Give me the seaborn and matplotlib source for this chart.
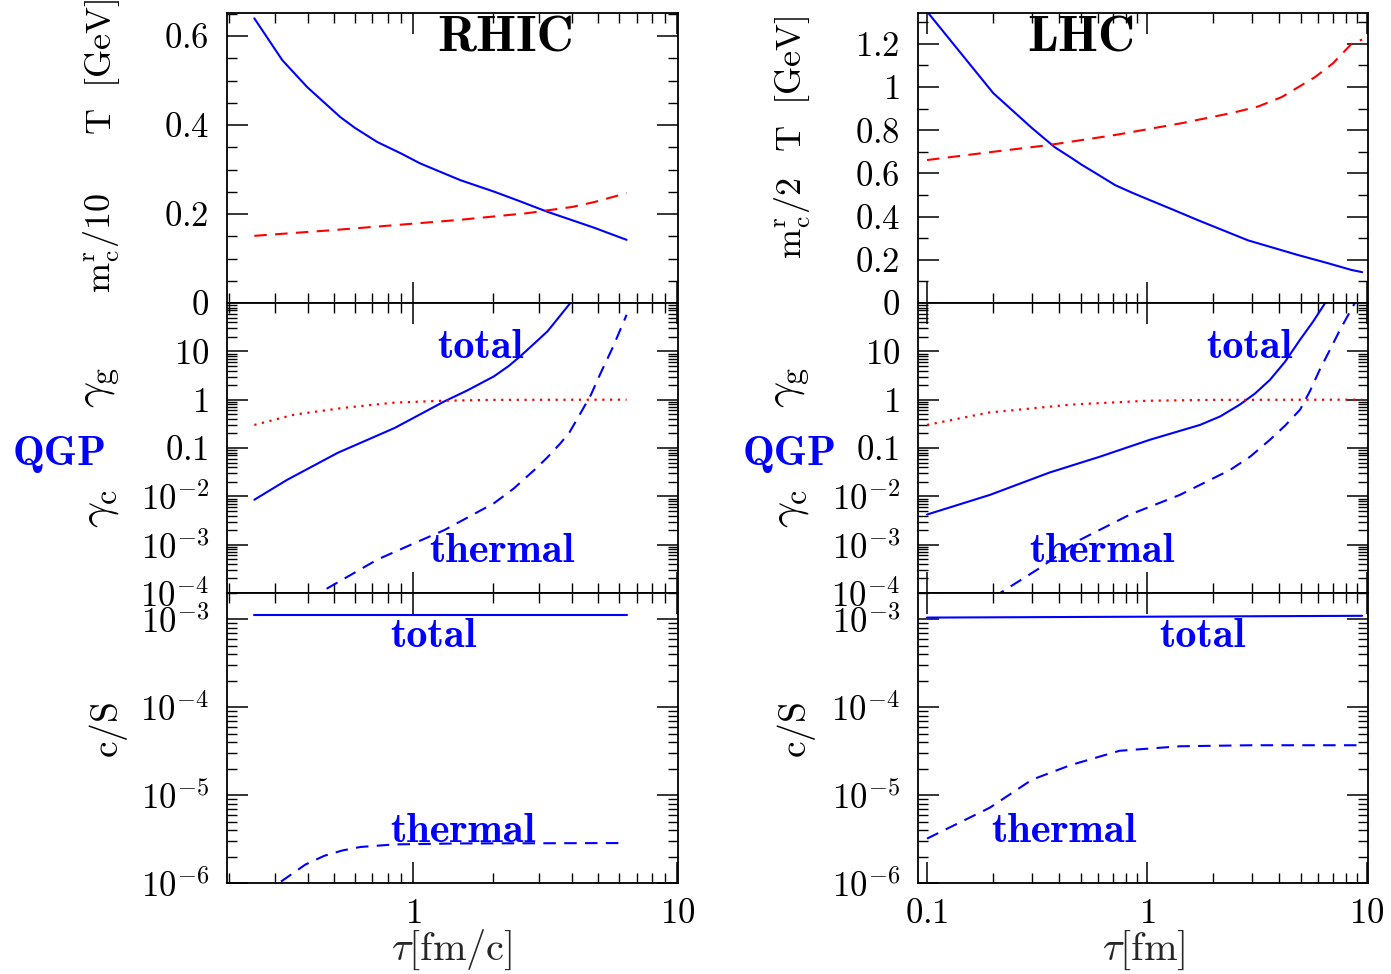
import numpy as np
import matplotlib
matplotlib.use("Agg")
import matplotlib.pyplot as plt
from matplotlib.ticker import FixedLocator, FixedFormatter, NullFormatter
import seaborn as sns

# ---------------- data ----------------
# RHIC
rhic_tau_T = [0.25, 0.319, 0.397, 0.529, 0.6, 0.73, 0.9, 1.06, 1.3, 1.51, 2.03, 2.5, 3.22, 4.0, 4.85, 6.42]
rhic_T = [0.64, 0.546, 0.485, 0.418, 0.394, 0.362, 0.336, 0.314, 0.292, 0.276, 0.25, 0.230, 0.205, 0.186, 0.169, 0.142]
rhic_tau_m = [0.25, 0.5, 0.85, 1.5, 2.7, 4.0, 4.85, 6.42]
rhic_m = [0.151, 0.164, 0.175, 0.187, 0.202, 0.216, 0.227, 0.247]

rhic_tau_gc_tot = [0.25, 0.333, 0.516, 0.85, 1.31, 1.6, 2.02, 2.3, 2.54, 2.85, 3.22, 3.55, 3.93]
rhic_gc_tot = [0.0085, 0.022, 0.079, 0.26, 0.92, 1.55, 3.04, 5.0, 7.9, 14.0, 25.9, 50.0, 100.0]
rhic_tau_gc_th = [0.25, 0.45, 0.73, 1.0, 1.31, 2.02, 2.4, 2.87, 3.2, 3.61, 3.9, 4.3, 4.7, 5.12, 5.7, 6.42]
rhic_gc_th = [1.7e-5, 1.07e-4, 4.9e-4, 1.05e-3, 2.0e-3, 7.2e-3, 0.0145, 0.035, 0.062, 0.126, 0.21, 0.53, 1.25, 3.55, 12.3, 57.0]
rhic_tau_gg = [0.25, 0.354, 0.548, 0.85, 1.3, 2.0, 6.42]
rhic_gg = [0.30, 0.49, 0.68, 0.87, 0.95, 0.99, 1.0]

rhic_tau_cs_tot = [0.25, 6.42]
rhic_cs_tot = [1.12e-3, 1.12e-3]
rhic_tau_cs_th = [0.25, 0.31, 0.39, 0.46, 0.54, 0.63, 0.85, 1.5, 6.42]
rhic_cs_th = [4.5e-7, 1.0e-6, 1.62e-6, 2.04e-6, 2.35e-6, 2.57e-6, 2.75e-6, 2.82e-6, 2.85e-6]

# LHC
lhc_tau_T = [0.1, 0.2, 0.3, 0.38, 0.45, 0.507, 0.6, 0.716, 0.85, 1.01, 1.3, 1.7, 2.2, 2.88, 3.8, 4.86, 6.5, 8.5, 9.5]
lhc_T = [1.35, 0.972, 0.81, 0.722, 0.674, 0.639, 0.594, 0.546, 0.512, 0.48, 0.434, 0.384, 0.338, 0.29, 0.254, 0.222, 0.187, 0.153, 0.143]
lhc_tau_m = [0.1, 0.178, 0.355, 0.716, 1.44, 2.43, 3.2, 4.1, 5.8, 7.0, 8.5, 9.5]
lhc_m = [0.662, 0.694, 0.731, 0.778, 0.833, 0.88, 0.91, 0.954, 1.046, 1.11, 1.2, 1.22]

lhc_tau_gc_tot = [0.1, 0.193, 0.36, 0.61, 1.03, 1.74, 2.15, 2.64, 3.09, 3.62, 4.24, 4.96, 5.68, 6.45]
lhc_gc_tot = [4.2e-3, 0.0107, 0.031, 0.066, 0.148, 0.30, 0.45, 0.79, 1.33, 2.57, 6.1, 17.4, 41.0, 100.0]
lhc_tau_gc_th = [0.2, 0.215, 0.326, 0.496, 0.837, 1.41, 2.38, 2.94, 3.62, 4.24, 4.96, 5.5, 6.1, 6.8, 7.54, 8.8]
lhc_gc_th = [8e-5, 1.0e-4, 3.3e-4, 1.26e-3, 4.2e-3, 0.0107, 0.035, 0.066, 0.148, 0.29, 0.62, 1.5, 4.2, 11.0, 28.0, 100.0]
lhc_tau_gg = [0.1, 0.19, 0.45, 1.0, 2.0, 9.5]
lhc_gg = [0.30, 0.54, 0.79, 0.95, 0.99, 1.0]

lhc_tau_cs_tot = [0.1, 9.5]
lhc_cs_tot = [1.05e-3, 1.1e-3]
lhc_tau_cs_th = [0.1, 0.193, 0.3, 0.45, 0.75, 1.41, 3.0, 9.5]
lhc_cs_th = [3.2e-6, 7.2e-6, 1.5e-5, 2.2e-5, 3.2e-5, 3.6e-5, 3.7e-5, 3.7e-5]

# tick labels
top_left_ticks = [0, 0.2, 0.4, 0.6]
top_left_labels = ["$0$", "$0.2$", "$0.4$", "$0.6$"]
top_right_ticks = [0, 0.2, 0.4, 0.6, 0.8, 1.0, 1.2]
top_right_labels = ["$0$", "$0.2$", "$0.4$", "$0.6$", "$0.8$", "$1$", "$1.2$"]
mid_ticks = [1e-4, 1e-3, 1e-2, 0.1, 1, 10]
mid_labels = ["$10^{-4}$", "$10^{-3}$", "$10^{-2}$", "$0.1$", "$1$", "$10$"]
bot_ticks = [1e-6, 1e-5, 1e-4, 1e-3]
bot_labels = ["$10^{-6}$", "$10^{-5}$", "$10^{-4}$", "$10^{-3}$"]
x_left_ticks = [1, 10]
x_left_labels = ["$1$", "$10$"]
x_right_ticks = [0.1, 1, 10]
x_right_labels = ["$0.1$", "$1$", "$10$"]

# ---------------- style ----------------
sns.set_style("ticks")
plt.rcParams.update({
    "mathtext.fontset": "cm",
    "font.family": ["cmr10", "DejaVu Sans"],
    "axes.linewidth": 1.3,
    "xtick.direction": "in", "ytick.direction": "in",
    "xtick.top": True, "ytick.right": True,
    "xtick.major.size": 15, "ytick.major.size": 15,
    "xtick.minor.size": 7.5, "ytick.minor.size": 7.5,
    "xtick.major.width": 1.1, "ytick.major.width": 1.1,
    "xtick.minor.width": 1.0, "ytick.minor.width": 1.0,
    "xtick.color": "black", "ytick.color": "black",
    "axes.edgecolor": "black",
})

W, H = 1391, 974
fig = plt.figure(figsize=(W / 100, H / 100), dpi=100)

def fx(px):
    return px / W

def fy(py):
    return 1 - py / H

cols = [(227, 678), (918, 1368)]
rows = [(13, 303), (303, 593), (593, 883)]
axes = [[None] * 3 for _ in range(2)]
for c, (x0, x1) in enumerate(cols):
    for r, (y0, y1) in enumerate(rows):
        axes[c][r] = fig.add_axes([fx(x0), fy(y1), (x1 - x0) / W, (y1 - y0) / H])

blue = "#0000ff"
red = "#ff0000"
lw = 1.5
dash = (0, (6, 4))
dot = (0, (1, 2.5))

def line(ax, x, y, color, ls="-", lwd=lw):
    sns.lineplot(x=x, y=y, ax=ax, color=color, linestyle=ls, linewidth=lwd,
                 estimator=None, sort=False)

sets = [
    dict(T=(rhic_tau_T, rhic_T), m=(rhic_tau_m, rhic_m),
         gtot=(rhic_tau_gc_tot, rhic_gc_tot), gth=(rhic_tau_gc_th, rhic_gc_th),
         gg=(rhic_tau_gg, rhic_gg), ctot=(rhic_tau_cs_tot, rhic_cs_tot),
         cth=(rhic_tau_cs_th, rhic_cs_th), xlim=(0.197, 10.05), ytop=0.652,
         tticks=top_left_ticks, tlabels=top_left_labels, tminor=0.05,
         xt=x_left_ticks, xl=x_left_labels),
    dict(T=(lhc_tau_T, lhc_T), m=(lhc_tau_m, lhc_m),
         gtot=(lhc_tau_gc_tot, lhc_gc_tot), gth=(lhc_tau_gc_th, lhc_gc_th),
         gg=(lhc_tau_gg, lhc_gg), ctot=(lhc_tau_cs_tot, lhc_cs_tot),
         cth=(lhc_tau_cs_th, lhc_cs_th), xlim=(0.091, 10.1), ytop=1.343,
         tticks=top_right_ticks, tlabels=top_right_labels, tminor=0.1,
         xt=x_right_ticks, xl=x_right_labels),
]

xminor = [k * 10.0 ** e for e in (-2, -1, 0) for k in range(2, 10)]
yminor_mid = [k * 10.0 ** e for e in range(-4, 2) for k in range(2, 10)]
yminor_bot = [k * 10.0 ** e for e in range(-6, -2) for k in range(2, 10)]

TICK_FS = 25

for c, d in enumerate(sets):
    a0, a1, a2 = axes[c]
    line(a0, *d["T"], blue)
    line(a0, *d["m"], red, dash)
    a0.set_ylim(0, d["ytop"])
    a0.yaxis.set_major_locator(FixedLocator(d["tticks"]))
    a0.yaxis.set_major_formatter(FixedFormatter(d["tlabels"]))
    a0.yaxis.set_minor_locator(FixedLocator(list(np.arange(0, d["ytop"], d["tminor"]))))

    line(a1, *d["gtot"], blue)
    line(a1, *d["gth"], blue, dash)
    line(a1, *d["gg"], red, dot, 1.6)
    a1.set_yscale("log")
    a1.set_ylim(1e-4, 100)
    a1.yaxis.set_major_locator(FixedLocator(mid_ticks))
    a1.yaxis.set_major_formatter(FixedFormatter(mid_labels))
    a1.yaxis.set_minor_locator(FixedLocator(yminor_mid))

    line(a2, *d["ctot"], blue)
    line(a2, *d["cth"], blue, dash)
    a2.set_yscale("log")
    a2.set_ylim(1e-6, 2e-3)
    a2.yaxis.set_major_locator(FixedLocator(bot_ticks))
    a2.yaxis.set_major_formatter(FixedFormatter(bot_labels))
    a2.yaxis.set_minor_locator(FixedLocator(yminor_bot))
    for i, ax in enumerate((a0, a1, a2)):
        ax.set_xscale("log")
        ax.set_xlim(*d["xlim"])
        ax.xaxis.set_major_locator(FixedLocator(d["xt"]))
        ax.xaxis.set_minor_locator(FixedLocator(xminor))
        ax.yaxis.set_minor_formatter(NullFormatter())
        ax.xaxis.set_minor_formatter(NullFormatter())
        if i == 2:
            ax.xaxis.set_major_formatter(FixedFormatter(d["xl"]))
        else:
            ax.xaxis.set_major_formatter(NullFormatter())
        ax.set_xlabel("")
        ax.set_ylabel("")
        ax.tick_params(axis="both", which="both", top=True, right=True, labelsize=TICK_FS)
        ax.tick_params(axis="y", which="major", pad=13)
        ax.tick_params(axis="x", which="major", pad=11)
        for s in ax.spines.values():
            s.set_visible(True)
            s.set_linewidth(1.3)

# ---------------- texts ----------------
bold = dict(family="cmb10", fontsize=30.5, color=blue, ha="left", va="baseline")
fig.text(fx(437), fy(52), "RHIC", family="cmb10", fontsize=37, color="black", ha="left", va="baseline")
fig.text(fx(1027), fy(52), "LHC", family="cmb10", fontsize=37, color="black", ha="left", va="baseline")
fig.text(fx(437), fy(358), "total", **bold)
fig.text(fx(429), fy(562), "thermal", **bold)
fig.text(fx(390), fy(647), "total", **bold)
fig.text(fx(390), fy(842), "thermal", **bold)
fig.text(fx(1206), fy(358), "total", **bold)
fig.text(fx(1029), fy(562), "thermal", **bold)
fig.text(fx(1159), fy(647), "total", **bold)
fig.text(fx(991), fy(842), "thermal", **bold)
fig.text(fx(13), fy(465), "QGP", **bold)
fig.text(fx(743), fy(465), "QGP", **bold)

lab = dict(fontsize=26, rotation=90, ha="center", va="center", color="black")
glab = dict(lab, fontsize=33)
fig.text(fx(102), fy(67), r"$\mathrm{T\ \ [GeV]}$", **lab)
fig.text(fx(102), fy(243), r"$\mathrm{m_c^r/10}$", **lab)
fig.text(fx(793), fy(84), r"$\mathrm{T\ \ [GeV]}$", **lab)
fig.text(fx(793), fy(218), r"$\mathrm{m_c^r/2}$", **lab)
fig.text(fx(100), fy(387), r"$\gamma_\mathrm{g}$", **glab)
fig.text(fx(100), fy(508), r"$\gamma_\mathrm{c}$", **glab)
fig.text(fx(790), fy(387), r"$\gamma_\mathrm{g}$", **glab)
fig.text(fx(790), fy(508), r"$\gamma_\mathrm{c}$", **glab)
fig.text(fx(108), fy(730), r"$\mathrm{c/S}$", **dict(lab, fontsize=27))
fig.text(fx(797), fy(730), r"$\mathrm{c/S}$", **dict(lab, fontsize=27))

fig.text(fx(452), fy(950), r"$\tau\mathrm{[fm/c]}$", fontsize=29, ha="center", va="center")
fig.text(fx(1144), fy(950), r"$\tau\mathrm{[fm]}$", fontsize=29, ha="center", va="center")

fig.savefig("out.png", dpi=100)
